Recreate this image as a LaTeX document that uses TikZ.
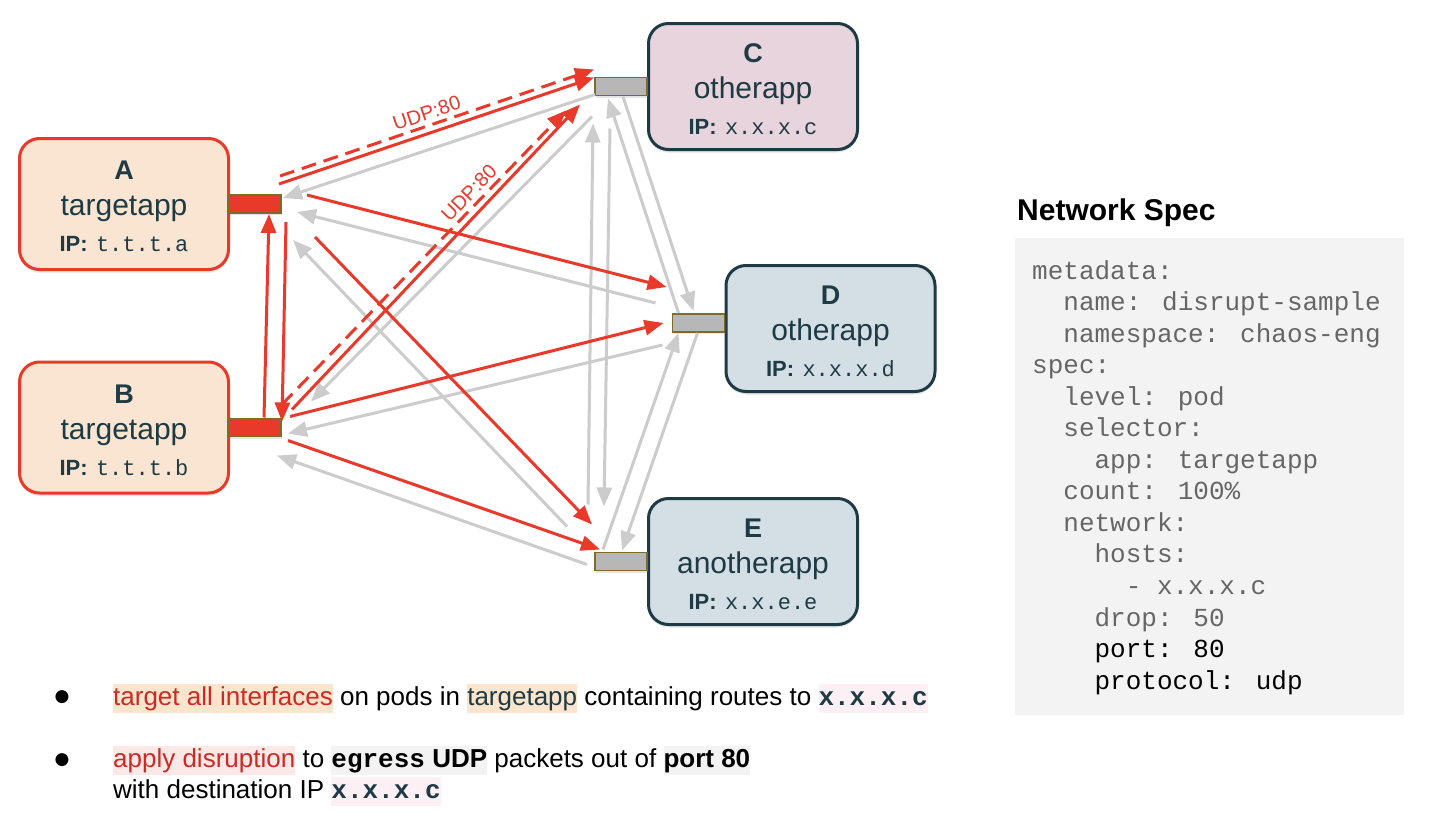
\documentclass[tikz,border=0pt]{standalone}
\usepackage{fontspec}
\setmainfont{Liberation Sans}
\newfontfamily\codefont{Liberation Mono}
\newfontfamily\symfont{DejaVu Sans}
\usepackage{tikz}
\usetikzlibrary{arrows.meta, positioning, shadows}

\definecolor{tred}{HTML}{E8392A}
\definecolor{tgray}{HTML}{CCCCCC}
\definecolor{slate}{HTML}{1E3A44}
\definecolor{peach}{HTML}{F9E5D1}
\definecolor{rose}{HTML}{E8D4DC}
\definecolor{mist}{HTML}{D3DFE4}
\definecolor{ifgray}{HTML}{B7B7B7}
\definecolor{ifedge}{HTML}{7F6A2A}
\definecolor{hlpeach}{HTML}{FCE5CD}
\definecolor{hlpink}{HTML}{FCE8E6}
\definecolor{hlrose}{HTML}{FDF0F4}
\definecolor{hlgray}{HTML}{F3F3F3}
\definecolor{hlred}{HTML}{CC2B25}
\definecolor{specgray}{HTML}{666666}

\tikzstyle{pod} = [rectangle, rounded corners=20pt, line width=3pt, text=slate, align=center, minimum width=209pt, minimum height=126pt, font=\fontsize{30}{36}\selectfont, drop shadow={opacity=0.2, shadow xshift=0pt, shadow yshift=-3pt}]
\tikzstyle{iface} = [rectangle, draw=ifedge, line width=1.5pt, fill=ifgray, minimum width=52pt, minimum height=18pt, inner sep=0pt, outer sep=0pt, drop shadow={opacity=0.2, shadow xshift=1pt, shadow yshift=-2pt}]
\tikzstyle{redline} = [draw=tred, line width=3pt, -{Triangle[length=19pt,width=15pt]}]
\tikzstyle{reddash} = [redline, dash pattern=on 15pt off 8pt]
\tikzstyle{grayline} = [draw=tgray, line width=3pt, -{Triangle[length=19pt,width=15pt]}]
\tikzstyle{udp} = [text=tred, font=\fontsize{20}{20}\selectfont, sloped, above, inner sep=4pt]
\tikzstyle{bullettext} = [anchor=base west, inner sep=0pt, font=\fontsize{26}{31}\selectfont]
\tikzstyle{dot} = [inner sep=0pt, font=\symfont\fontsize{17}{17}\selectfont]
\tikzstyle{specline} = [anchor=base west, inner sep=0pt, font=\codefont\fontsize{26}{26}\selectfont]

\newcommand{\podhead}[1]{{\fontsize{27}{36}\selectfont\bfseries\rule{0pt}{24pt}#1}}
\newcommand{\podip}[1]{{\fontsize{22}{36}\selectfont\bfseries IP:}~{\codefont\fontsize{22}{36}\selectfont #1}}
\newcommand{\hlbox}[2]{{\setlength{\fboxsep}{0pt}\colorbox{#1}{\rule[-8pt]{0pt}{29pt}#2}}}
\newcommand{\codeb}[1]{{\codefont\bfseries #1}}

\begin{document}
\begin{tikzpicture}[x=1pt, y=-1pt]
  \fill[white] (0,0) rectangle (1430,838);
  \useasboundingbox (0,0) rectangle (1430,838);

  % pods
  \node (pa) [pod, fill=peach, draw=tred, minimum height=131pt] at (124,204) {\podhead{A}\\targetapp\\\podip{t.t.t.a}};
  \node (pb) [pod, fill=peach, draw=tred, minimum height=131pt] at (124,427.5) {\podhead{B}\\targetapp\\\podip{t.t.t.b}};
  \node (pc) [pod, fill=rose, draw=slate] at (753,86.5) {\podhead{C}\\otherapp\\\podip{x.x.x.c}};
  \node (pd) [pod, fill=mist, draw=slate] at (830.5,328.5) {\podhead{D}\\otherapp\\\podip{x.x.x.d}};
  \node (pe) [pod, fill=mist, draw=slate] at (753,561.5) {\podhead{E}\\anotherapp\\\podip{x.x.e.e}};

  % interfaces
  \node (ia) [iface, fill=tred, right=-1pt of pa] {};
  \node (ib) [iface, fill=tred, right=-1pt of pb] {};
  \node (ic) [iface, left=0pt of pc] {};
  \node (id) [iface, left=0pt of pd, yshift=5.5pt] {};
  \node (ie) [iface, left=0pt of pe] {};

  % replies
  \draw [grayline] ([shift={(-26,8)}]ic.center) -- ([shift={(28,-6)}]ia.center);
  \draw [grayline] ([shift={(-43,-20)}]id.center) -- ([shift={(42,8)}]ia.center);
  \draw [grayline] ([shift={(-54,-35)}]ie.center) -- ([shift={(38,36)}]ia.center);
  \draw [grayline] ([shift={(-29,30)}]ic.center) -- ([shift={(56,-26)}]ib.center);
  \draw [grayline] ([shift={(-36,22)}]id.center) -- ([shift={(33,6)}]ib.center);
  \draw [grayline] ([shift={(-34,3)}]ie.center) -- ([shift={(22,28)}]ib.center);
  \draw [grayline] ([shift={(-33,-57)}]ie.center) -- ([shift={(-28,37)}]ic.center);
  \draw [grayline] ([shift={(-11,42)}]ic.center) -- ([shift={(-17,-55)}]ie.center);
  \draw [grayline] ([shift={(-20,-10)}]id.center) -- ([shift={(-13,12)}]ic.center);
  \draw [grayline] ([shift={(2,10)}]ic.center) -- ([shift={(-5,-12)}]id.center);
  \draw [grayline] ([shift={(-18,-12)}]ie.center) -- ([shift={(-20,10)}]id.center);
  \draw [grayline] ([shift={(-1,10)}]id.center) -- ([shift={(1,-11)}]ie.center);

  % egress from targetapp
  \draw [reddash] ([shift={(25,-28)}]ia.center) -- node [udp, pos=0.48] {UDP:80} ([shift={(-27,-17)}]ic.center);
  \draw [redline] ([shift={(24,-20)}]ia.center) -- ([shift={(-27,-9)}]ic.center);
  \draw [redline] ([shift={(52,-9)}]ia.center) -- ([shift={(-32,-36)}]id.center);
  \draw [redline] ([shift={(60,33)}]ia.center) -- ([shift={(-29,-37)}]ie.center);
  \draw [redline] ([shift={(31,18)}]ia.center) -- ([shift={(27,-6)}]ib.center);
  \draw [redline] ([shift={(9,-10)}]ib.center) -- ([shift={(14,10)}]ia.center);
  \draw [reddash] ([shift={(27,-23)}]ib.center) -- node [udp, pos=0.69] {UDP:80} ([shift={(-55,24)}]ic.center);
  \draw [redline] ([shift={(37,-18)}]ib.center) -- ([shift={(-41,18)}]ic.center);
  \draw [redline] ([shift={(35,-11)}]ib.center) -- ([shift={(-35,0)}]id.center);
  \draw [redline] ([shift={(33,13)}]ib.center) -- ([shift={(-21,-12)}]ie.center);

  % notes
  \node (d1) [dot] at (62,697) {●};
  \node (n1) [bullettext] at (113,705) {\hlbox{hlpeach}{\textcolor{hlred}{target all interfaces}} on pods in \hlbox{hlpeach}{\textcolor{slate}{targetapp}} containing routes to \hlbox{hlrose}{\textcolor{slate}{\codeb{x.x.x.c}}}};
  \node (d2) [dot] at (62,760) {●};
  \node (n2) [bullettext] at (113,767) {\hlbox{hlpink}{\textcolor{hlred}{apply disruption}} to \hlbox{hlgray}{\codeb{egress} \textbf{UDP}} packets out of \hlbox{hlgray}{\textbf{port 80}}};
  \node (n3) [bullettext] at (113,798) {with destination IP \hlbox{hlrose}{\textcolor{slate}{\codeb{x.x.x.c}}}};

  % spec
  \node (spectitle) [anchor=base west, inner sep=0pt, font=\fontsize{30}{30}\selectfont\bfseries] at (1017,220) {Network Spec};
  \node (specbox) [anchor=north west, fill=hlgray, inner sep=0pt, minimum width=389pt, minimum height=477pt] at (1015,238) {};
  \foreach \ind/\txt/\col [count=\i from 0] in {0/metadata:/specgray, 2/name: disrupt-sample/specgray, 2/namespace: chaos-eng/specgray, 0/spec:/specgray, 2/level: pod/specgray, 2/selector:/specgray, 4/app: targetapp/specgray, 2/count: 100\%/specgray, 2/network:/specgray, 4/hosts:/specgray, 6/- x.x.x.c/specgray, 4/drop: 50/specgray, 4/port: 80/black, 4/protocol: udp/black}
    \node [specline, text=\col] at ({1032+15.6*\ind},{279+31.55*\i}) {\txt};
\end{tikzpicture}
\end{document}
